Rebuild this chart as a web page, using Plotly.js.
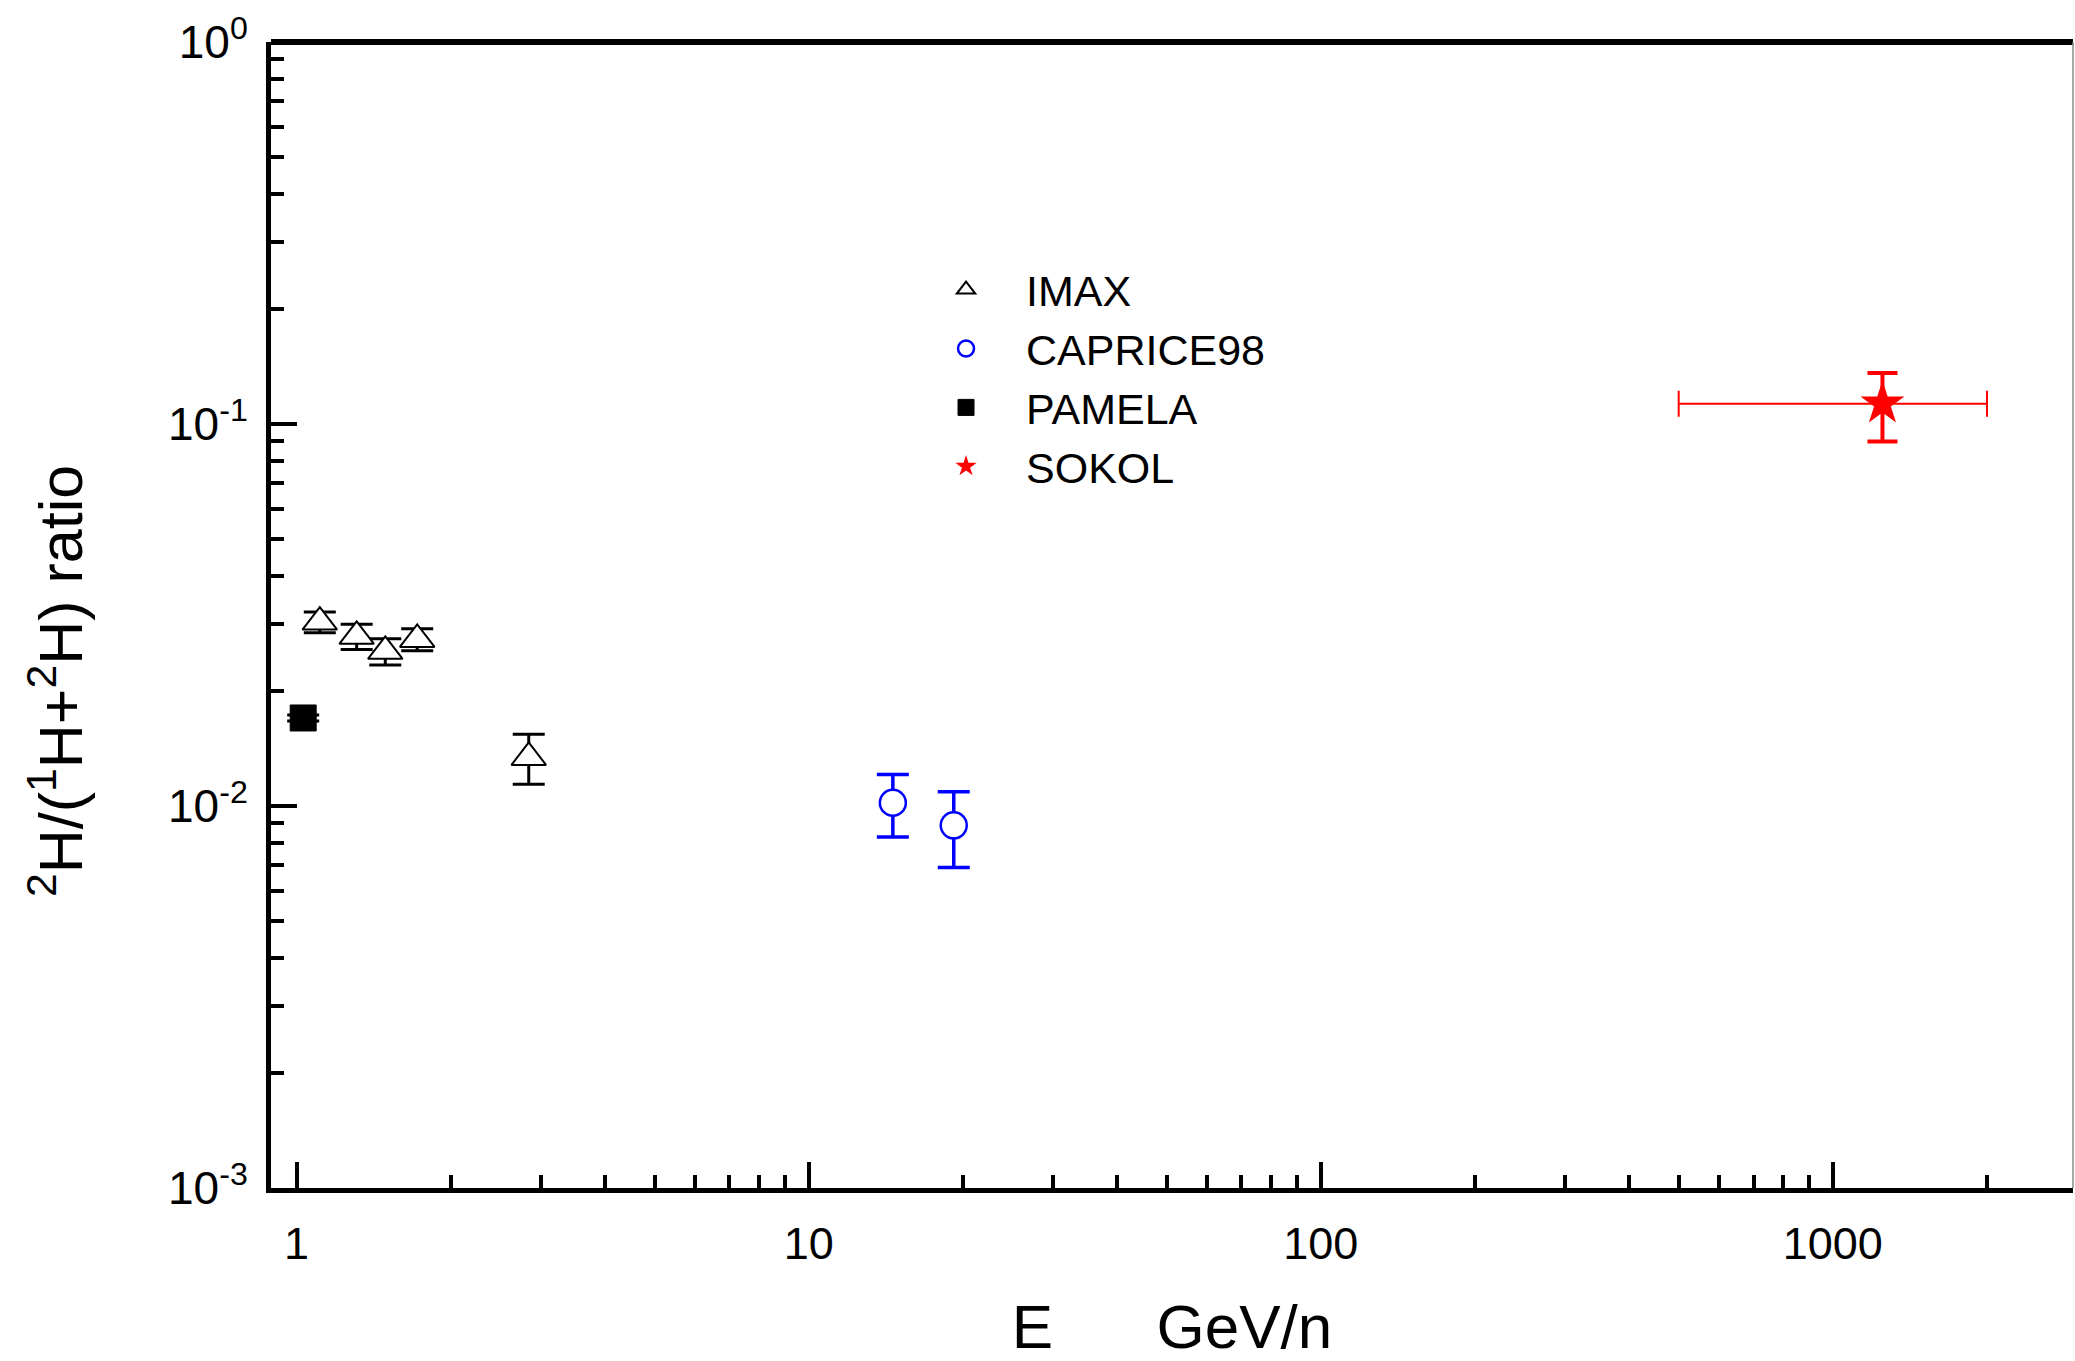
<!DOCTYPE html>
<html>
<head>
<meta charset="utf-8">
<script src="https://cdn.plot.ly/plotly-3.0.1.min.js"></script>
<style>html,body{margin:0;padding:0;background:#fff;}#chart{width:2075px;height:1361px;}</style>
</head>
<body>
<div id="chart"></div>
<script>
// ---- data ----
const imaxE = [1.11, 1.31, 1.49, 1.72, 2.84];
const imaxR = [0.0303, 0.0278, 0.0254, 0.0273, 0.0134];
const imaxErr = [0.0019, 0.0021, 0.0020, 0.0018, 0.0020];

const capriceE = [14.6, 19.2];
const capriceR = [0.0102, 0.0089];
const capriceErr = [0.0019, 0.0020];

const pamelaE = [1.03];
const pamelaR = [0.0170];
const pamelaErr = [0.0003];

const sokolE = [1250];
const sokolR = [0.113];
const sokolErrE = [750];
const sokolErrR = [0.023];

const xTickVals = [1, 10, 100, 1000];
const xTickText = ['1', '10', '100', '1000'];
const xMinorVals = [2,3,4,5,6,7,8,9,20,30,40,50,60,70,80,90,200,300,400,500,600,700,800,900,2000];
const yTickVals = [0.001, 0.01, 0.1, 1];
const yTickText = ['10<sup>-3</sup>', '10<sup>-2</sup>', '10<sup>-1</sup>', '10<sup>0</sup>'];
const yMinorVals = [0.002,0.003,0.004,0.005,0.006,0.007,0.008,0.009,0.02,0.03,0.04,0.05,0.06,0.07,0.08,0.09,0.2,0.3,0.4,0.5,0.6,0.7,0.8,0.9];

const seriesNames = ['IMAX', 'CAPRICE98', 'PAMELA', 'SOKOL'];
const xTitle = 'E\u00a0\u00a0\u00a0\u00a0\u00a0\u00a0GeV/n';
const yTitle = '<sup>2</sup>H/(<sup>1</sup>H+<sup>2</sup>H) ratio';

const FONT = 'Liberation Sans, Arial, Helvetica, sans-serif';

const traces = [
  {
    name: seriesNames[0], x: imaxE, y: imaxR, type: 'scatter', mode: 'markers',
    marker: {symbol: 'triangle-up', size: 30, color: 'white', line: {color: 'black', width: 2}},
    error_y: {type: 'data', array: imaxErr, visible: true, color: 'black', thickness: 3, width: 16}
  },
  {
    name: seriesNames[1], x: capriceE, y: capriceR, type: 'scatter', mode: 'markers',
    marker: {symbol: 'circle', size: 26, color: 'white', line: {color: '#0000ff', width: 2.5}},
    error_y: {type: 'data', array: capriceErr, visible: true, color: '#0000ff', thickness: 3.5, width: 16}
  },
  {
    name: seriesNames[2], x: pamelaE, y: pamelaR, type: 'scatter', mode: 'markers',
    marker: {symbol: 'square', size: 26, color: 'black', line: {color: 'black', width: 1}},
    error_y: {type: 'data', array: pamelaErr, visible: true, color: 'black', thickness: 3, width: 16}
  },
  {
    name: seriesNames[3], x: sokolE, y: sokolR, type: 'scatter', mode: 'markers',
    marker: {symbol: 'star', size: 33, color: '#ff0000', line: {color: '#ff0000', width: 0}},
    error_y: {type: 'data', array: sokolErrR, visible: true, color: '#ff0000', thickness: 4, width: 15},
    error_x: {type: 'data', array: sokolErrE, visible: true, color: '#ff0000', thickness: 2, width: 13}
  }
];

const layout = {
  width: 2075, height: 1361,
  margin: {l: 271, r: 2, t: 42, b: 173, pad: 0},
  paper_bgcolor: 'white', plot_bgcolor: 'white',
  font: {family: FONT, color: 'black'},
  showlegend: true,
  legend: {
    x: 0.3524, xanchor: 'left', y: 0.814, yanchor: 'top',
    bgcolor: 'rgba(0,0,0,0)', borderwidth: 0,
    font: {family: FONT, size: 43, color: 'black'},
    itemwidth: 110
  },
  xaxis: {
    type: 'log', range: [-0.05, 3.469],
    showline: true, linecolor: 'black', linewidth: 5, mirror: false,
    showgrid: false, zeroline: false,
    tickmode: 'array', tickvals: xTickVals, ticktext: xTickText,
    ticks: 'inside', ticklen: 26, tickwidth: 4, tickcolor: 'black',
    ticklabelstandoff: 12,
    tickfont: {family: FONT, size: 45, color: 'black'},
    minor: {tickmode: 'array', tickvals: xMinorVals, ticks: 'inside', ticklen: 13, tickwidth: 4, tickcolor: 'black', showgrid: false},
    title: {text: xTitle, font: {family: FONT, size: 62, color: 'black'}, standoff: 40}
  },
  yaxis: {
    type: 'log', range: [-3, 0],
    showline: true, linecolor: 'black', linewidth: 5, mirror: false,
    showgrid: false, zeroline: false,
    tickmode: 'array', tickvals: yTickVals, ticktext: yTickText,
    ticks: 'inside', ticklen: 26, tickwidth: 4, tickcolor: 'black',
    ticklabelstandoff: 9,
    tickfont: {family: FONT, size: 46, color: 'black'},
    minor: {tickmode: 'array', tickvals: yMinorVals, ticks: 'inside', ticklen: 13, tickwidth: 4, tickcolor: 'black', showgrid: false}
  },
  shapes: [
    {type: 'line', xref: 'paper', yref: 'paper', x0: 0, x1: 1, y0: 1, y1: 1, line: {color: 'black', width: 6}},
    {type: 'line', xref: 'paper', yref: 'paper', x0: 1, x1: 1, y0: 0, y1: 1, line: {color: '#888888', width: 1.5}}
  ],
  annotations: [
    {text: yTitle, xref: 'paper', yref: 'paper', x: -0.119, y: 0.442, xanchor: 'center', yanchor: 'middle',
     textangle: -90, showarrow: false, font: {family: FONT, size: 61, color: 'black'}}
  ]
};

Plotly.newPlot('chart', traces, layout, {displayModeBar: false, staticPlot: true});
</script>
</body>
</html>
